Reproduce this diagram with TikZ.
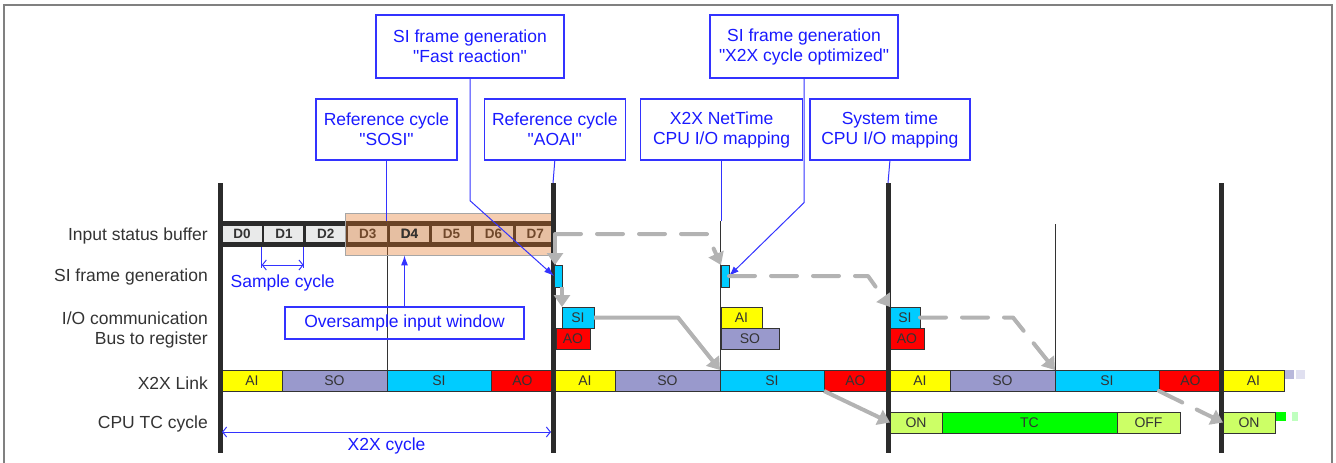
\documentclass[tikz,border=0pt]{standalone}
\usepackage{fontspec}
\setmainfont{Liberation Sans}
\usetikzlibrary{positioning,arrows.meta}

\definecolor{ink}{HTML}{333333}
\definecolor{barc}{HTML}{2B2B2B}
\definecolor{cellc}{HTML}{E9EAEA}
\definecolor{winc}{RGB}{226,112,29}
\definecolor{notec}{HTML}{3333FF}
\definecolor{notet}{HTML}{1A1AFF}
\definecolor{aic}{HTML}{FFFF00}
\definecolor{soc}{HTML}{9999CC}
\definecolor{sic}{HTML}{00CCFF}
\definecolor{aoc}{HTML}{FF0000}
\definecolor{onc}{HTML}{CCFF66}
\definecolor{tcc}{HTML}{00FF00}
\definecolor{flowc}{HTML}{B3B3B3}

\begin{document}
\begin{tikzpicture}[x=1pt, y=-1pt, font=\fontsize{17.5}{20}\selectfont,
    rowlabel/.style={anchor=east, text=ink, align=right, inner sep=0pt},
    callout/.style={draw=notec, line width=1.3pt, text=notet, align=center, inner sep=0pt},
    bufcell/.style={fill=cellc, text=ink, minimum width=39pt, minimum height=16pt, inner sep=0pt,
                    font=\fontsize{13.5}{16}\selectfont\bfseries},
    blk/.style={draw=ink, line width=0.8pt, text=ink, minimum height=21pt, inner sep=0pt, outer sep=0pt,
                anchor=west, font=\fontsize{14}{16}\selectfont},
    cyc/.style={draw=barc, line width=5pt},
    guideline/.style={draw=ink, line width=0.9pt},
    bluline/.style={draw=notec, line width=1pt},
    pointer/.style={bluline, -{Latex[length=10pt,width=7pt]}},
    spanarrow/.style={bluline, {Straight Barb[length=4pt,width=10pt]}-{Straight Barb[length=4pt,width=10pt]}},
    flow/.style={draw=flowc, line width=4pt, line join=round, -{Triangle[length=12pt,width=16pt]}},
    flowdash/.style={flow, line cap=round, dash pattern=on 26pt off 16pt}]

  \useasboundingbox (0,0) rectangle (1336,463);
  \draw[draw=gray, line width=1.2pt] (4,470) -- (4,5) -- (1332,5) -- (1332,470);

  % Callouts
  \node[callout, minimum width=188pt, minimum height=63pt] (fast) at (470,46.5)
    {SI frame generation\\\textquotedbl Fast reaction\textquotedbl};
  \node[callout, minimum width=188pt, minimum height=63pt] (opt) at (804,46.5)
    {SI frame generation\\\textquotedbl X2X cycle optimized\textquotedbl};
  \node[callout, minimum width=141pt, minimum height=61pt] (sosi) at (386.5,129.5)
    {Reference cycle\\\textquotedbl SOSI\textquotedbl};
  \node[callout, minimum width=141pt, minimum height=61pt, right=26pt of sosi] (aoai)
    {Reference cycle\\\textquotedbl AOAI\textquotedbl};
  \node[callout, minimum width=162pt, minimum height=61pt, right=14pt of aoai] (nettime) {X2X NetTime\\CPU I/O mapping};
  \node[callout, minimum width=160pt, minimum height=61pt, right=6pt of nettime] (systime) {System time\\CPU I/O mapping};

  % Row labels
  \node[rowlabel] (lbuf) at (208,236) {Input status buffer};
  \node[rowlabel] (lsif) at (208,277) {SI frame generation};
  \node[rowlabel] (lio) at (208,330) {I/O communication\\Bus to register};
  \node[rowlabel] (llink) at (208,383) {X2X Link};
  \node[rowlabel] (ltc) at (208,424) {CPU TC cycle};

  % Cycle marks
  \coordinate (k1) at (220,183);
  \coordinate (k2) at (553,183);
  \coordinate (k3) at (888,183);
  \coordinate (k4) at (1221,183);

  % X2X Link
  \node[blk, fill=aic, minimum width=60pt] (lai1) at (222,380.5) {AI};
  \node[blk, fill=soc, minimum width=105pt, right=0pt of lai1] (lso1) {SO};
  \node[blk, fill=sic, minimum width=104pt, right=0pt of lso1] (lsi1) {SI};
  \node[blk, fill=aoc, minimum width=63pt, right=0pt of lsi1] (lao1) {AO};
  \node[blk, fill=aic, minimum width=60pt] (lai2) at (555,380.5) {AI};
  \node[blk, fill=soc, minimum width=105pt, right=0pt of lai2] (lso2) {SO};
  \node[blk, fill=sic, minimum width=104pt, right=0pt of lso2] (lsi2) {SI};
  \node[blk, fill=aoc, minimum width=63pt, right=0pt of lsi2] (lao2) {AO};
  \node[blk, fill=aic, minimum width=60pt] (lai3) at (890,380.5) {AI};
  \node[blk, fill=soc, minimum width=105pt, right=0pt of lai3] (lso3) {SO};
  \node[blk, fill=sic, minimum width=104pt, right=0pt of lso3] (lsi3) {SI};
  \node[blk, fill=aoc, minimum width=63pt, right=0pt of lsi3] (lao3) {AO};
  \node[blk, fill=aic, minimum width=61pt] (lai4) at (1223,380.5) {AI};
  \fill[soc!70] (1285,370) rectangle (1294,379);
  \fill[soc!30] (1296,370) rectangle (1305,379);

  % CPU TC cycle
  \node[blk, fill=onc, minimum width=52pt] (ton3) at (890,422.5) {ON};
  \node[blk, fill=tcc, minimum width=175pt, right=0pt of ton3] (ttc3) {TC};
  \node[blk, fill=onc, minimum width=63pt, right=0pt of ttc3] (toff3) {OFF};
  \node[blk, fill=onc, minimum width=52pt] (ton4) at (1223,422.5) {ON};
  \fill[tcc] (1276,412) rectangle (1286,421);
  \fill[tcc!25] (1292,412) rectangle (1298,421);

  % I/O communication
  \node[blk, fill=sic, minimum width=32pt] (io1si) at (562,317.5) {SI};
  \node[blk, fill=aoc, minimum width=34pt] (io1ao) at (556,338.5) {AO};
  \node[blk, fill=aic, minimum width=41pt] (io2ai) at (721,317.5) {AI};
  \node[blk, fill=soc, minimum width=58pt] (io2so) at (721,338.5) {SO};
  \node[blk, fill=sic, minimum width=30pt] (io3si) at (890,317.5) {SI};
  \node[blk, fill=aoc, minimum width=34pt] (io3ao) at (890,338.5) {AO};

  % Input status buffer
  \node[fill=barc, minimum width=333pt, minimum height=26pt, inner sep=0pt, anchor=west] (buf) at (220,234) {};
  \draw[guideline] (lsi1.north west) -- (lsi1.north west |- buf.north);
  \draw[guideline] (lsi2.north west) -- (lsi2.north west |- buf.north);
  \draw[guideline] (lsi3.north west) -- ++(0,-146);
  \node[bufcell] (d0) at (242,234) {D0};
  \node[bufcell, right=2.5pt of d0] (d1) {D1};
  \node[bufcell, right=2.5pt of d1] (d2) {D2};
  \node[bufcell, right=2.5pt of d2] (d3) {D3};
  \node[bufcell, right=2.5pt of d3] (d4) {D4};
  \node[bufcell, right=2.5pt of d4] (d5) {D5};
  \node[bufcell, right=2.5pt of d5] (d6) {D6};
  \node[bufcell, right=2.5pt of d6] (d7) {D7};
  \node[draw=gray!70, fill=winc, fill opacity=0.35, minimum width=208pt, minimum height=42pt,
        inner sep=0pt, anchor=north west] (win) at (345,213) {};
  \node[text=ink, inner sep=0pt, font=\fontsize{13.5}{16}\selectfont\bfseries] (d4top) at (d4) {D4};

  % Sample cycle
  \draw[bluline] (d0.east |- buf.south) -- (d0.east |- 0,268);
  \draw[bluline] (d1.east |- buf.south) -- (d1.east |- 0,268);
  \draw[spanarrow] (d0.east |- 0,265) -- (d1.east |- 0,265)
    node[midway, below=9pt, text=notet, inner sep=0pt] (scl) {Sample cycle};

  % Oversample window
  \node[callout, minimum width=239pt, minimum height=32pt] (ow) at (404.5,323) {Oversample input window};
  \draw[pointer] (ow.north) -- (ow.north |- win.south);

  % Cycle lines
  \draw[cyc] (k1) -- ++(0,270);
  \draw[cyc] (k2) -- ++(0,270);
  \draw[cyc] (k3) -- ++(0,270);
  \draw[cyc] (k4) -- ++(0,270);

  % SI frames
  \node[blk, fill=sic, minimum width=8pt, minimum height=22pt] (sif1) at (554,276) {};
  \node[blk, fill=sic, minimum width=8pt, minimum height=22pt] (sif2) at (721,276) {};

  % Callout lines
  \draw[pointer] (fast.south) -- ++(0,122) -- (sif1.west);
  \draw[pointer] (opt.south) -- ++(0,124) -- (sif2.east);
  \draw[bluline] (sosi.south) -- (sosi.south |- buf.north);
  \draw[bluline] (aoai.south) -- (k2);
  \draw[bluline] (nettime.south) -- (nettime.south |- buf.north);
  \draw[bluline] (systime.south) -- (k3);

  % Data flow
  \draw[flow] (d7.east) -- (d7.east |- sif1.north);
  \draw[flowdash] (d7.east) -- ++(152,0) -- (sif2.north west);
  \draw[flow] (sif1.south east) -- (sif1.south east |- io1si.north);
  \draw[flowdash] (sif2.east) -- ++(139,0) -- (io3si.north west);
  \draw[flow] (io1si.east) -- ++(84,0) -- (lsi2.north west);
  \draw[flowdash] (io3si.east) -- ++(93,0) -- (lsi3.north west);
  \draw[flow] (lsi2.south east) -- (ton3.west);
  \draw[flowdash] (lsi3.south east) -- (ton4.west);

  % X2X cycle
  \coordinate (sp1) at (222,432);
  \coordinate (sp2) at (551,432);
  \draw[spanarrow] (sp1) -- (sp2) node[midway, below=5pt, text=notet, inner sep=0pt] (xcl) {X2X cycle};

\end{tikzpicture}
\end{document}
